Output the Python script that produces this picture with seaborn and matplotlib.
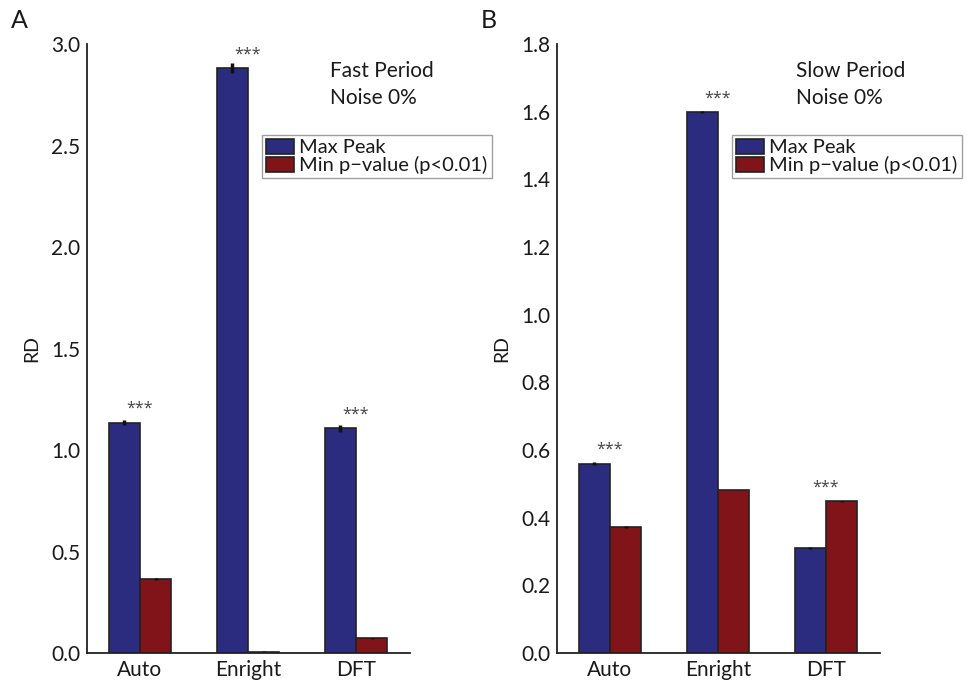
import pandas as pd
import matplotlib
matplotlib.use("Agg")
import matplotlib.pyplot as plt
import seaborn as sns
from matplotlib.patches import Patch

# Datos
methods = ["Auto", "Enright", "DFT"]
series = ["Max Peak", "Min p\u2212value (p<0.01)"]

fast_max = [1.134, 2.880, 1.107]
fast_min = [0.364, 0.005, 0.072]
fast_max_err = [0.012, 0.025, 0.018]
fast_min_err = [0.005, 0.003, 0.003]

slow_max = [0.560, 1.599, 0.310]
slow_min = [0.372, 0.482, 0.448]
slow_max_err = [0.004, 0.004, 0.002]
slow_min_err = [0.002, 0.001, 0.002]

stars_fast = ["***", "***", "***"]
stars_slow = ["***", "***", "***"]

blue = "#2b2c7f"
red = "#801418"
ink = "#1a1a1a"

sns.set_style("white")
plt.rcParams["font.family"] = ["Lato", "DejaVu Sans"]
plt.rcParams["text.color"] = ink
plt.rcParams["xtick.color"] = ink
plt.rcParams["ytick.color"] = ink
plt.rcParams["axes.labelcolor"] = ink


def make_df(vmax, vmin, emax, emin):
    return pd.DataFrame({
        "Method": methods * 2,
        "Series": [series[0]] * 3 + [series[1]] * 3,
        "RD": vmax + vmin,
        "Err": emax + emin,
    })


fig = plt.figure(figsize=(9.67, 6.85), dpi=100)
ax_a = fig.add_axes([0.090, 0.0467, 0.334, 0.889])
ax_b = fig.add_axes([0.576, 0.0467, 0.334, 0.889])

panels = [
    (ax_a, make_df(fast_max, fast_min, fast_max_err, fast_min_err), stars_fast,
     (0, 3.0), [0, 0.5, 1.0, 1.5, 2.0, 2.5, 3.0], "Fast Period", "A", 0.752, -0.235),
    (ax_b, make_df(slow_max, slow_min, slow_max_err, slow_min_err), stars_slow,
     (0, 1.8), [0, 0.2, 0.4, 0.6, 0.8, 1.0, 1.2, 1.4, 1.6, 1.8], "Slow Period", "B", 0.74, -0.235),
]

for ax, df, stars, ylim, yticks, title, letter, tx, lx in panels:
    sns.barplot(data=df, x="Method", y="RD", hue="Series", order=methods,
                hue_order=series, palette=[blue, red], saturation=1, width=0.58,
                errorbar=None, edgecolor="#222222", linewidth=1.2,
                ax=ax, legend=False)

    # barras de error sobre el centro de cada barra
    for patch, (_, row) in zip(ax.patches, df.iterrows()):
        cx = patch.get_x() + patch.get_width() / 2
        ax.errorbar(cx, patch.get_height(), yerr=row["Err"], fmt="none",
                    ecolor="#111111", elinewidth=2.5, capsize=0)

    # asteriscos de significancia
    for i, m in enumerate(methods):
        top = df.loc[df["Method"] == m, "RD"].max()
        ax.annotate(stars[i], (i, top), xytext=(0, 10), textcoords="offset points",
                    ha="center", va="center", fontsize=11.5, color="#444444",
                    family=["Open Sans", "DejaVu Sans"])

    ax.set_xlim(-0.49, 2.5)
    ax.set_ylim(*ylim)
    ax.set_yticks(yticks)
    ax.set_yticklabels([f"{t:.1f}" for t in yticks])
    ax.set_xlabel("")
    ax.set_ylabel("RD", fontsize=14, labelpad=8)
    ax.tick_params(axis="both", labelsize=15, length=0, pad=5)
    sns.despine(ax=ax)
    for s in ["left", "bottom"]:
        ax.spines[s].set_color("#222222")
        ax.spines[s].set_linewidth(1.3)

    ax.text(tx, 0.955, title, transform=ax.transAxes, fontsize=15, va="center")
    ax.text(tx, 0.911, "Noise 0%", transform=ax.transAxes, fontsize=15, va="center")

    handles = [Patch(facecolor=blue, edgecolor="#222222", linewidth=1.2),
               Patch(facecolor=red, edgecolor="#222222", linewidth=1.2)]
    leg = ax.legend(handles, series, loc="upper left", bbox_to_anchor=(0.542, 0.851),
                    fontsize=14.5, frameon=True, fancybox=False, borderpad=0.2,
                    labelspacing=0.0, handlelength=1.4, handleheight=0.75,
                    handletextpad=0.25, borderaxespad=0)
    leg.get_frame().set_edgecolor("#888888")
    leg.get_frame().set_linewidth(1.0)

    ax.text(lx, 1.038, letter, transform=ax.transAxes, fontsize=18, va="center", ha="left")

fig.savefig("out.png", dpi=100)
